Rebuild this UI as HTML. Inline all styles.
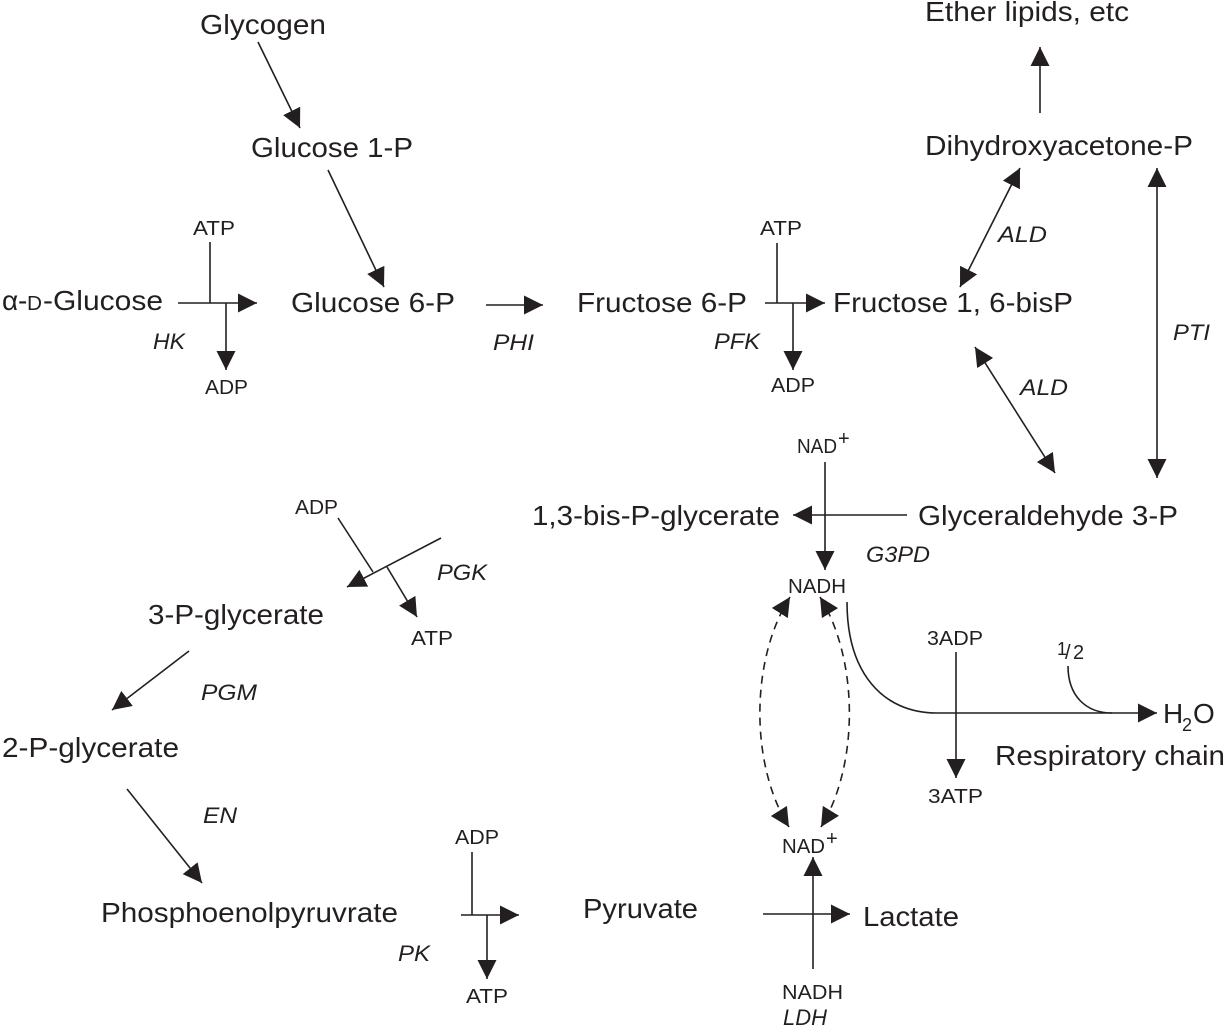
<!DOCTYPE html>
<html>
<head>
<meta charset="utf-8">
<style>
html,body{margin:0;padding:0;background:#fff;}
svg{display:block;}
</style>
</head>
<body>
<svg width="1225" height="1027" viewBox="0 0 1225 1027" xmlns="http://www.w3.org/2000/svg">
<defs>
<marker id="a" markerUnits="userSpaceOnUse" markerWidth="20" markerHeight="20" refX="19" refY="9.5" orient="auto-start-reverse">
<path d="M0,0 L19,9.5 L0,19 z" fill="#231f20" stroke="none"/>
</marker>
</defs>

<g stroke="#231f20" stroke-width="1.6" fill="none">
<line x1="258" y1="42" x2="300" y2="128" marker-end="url(#a)"/>
<line x1="328" y1="170" x2="384" y2="287" marker-end="url(#a)"/>
<line x1="178" y1="303" x2="257" y2="303" marker-end="url(#a)"/>
<line x1="210" y1="242" x2="210" y2="303"/>
<line x1="226" y1="303" x2="226" y2="370" marker-end="url(#a)"/>
<line x1="486" y1="305" x2="543" y2="305" marker-end="url(#a)"/>
<line x1="765" y1="303" x2="825" y2="303" marker-end="url(#a)"/>
<line x1="777" y1="243" x2="777" y2="303"/>
<line x1="793" y1="303" x2="793" y2="370" marker-end="url(#a)"/>
<line x1="1020" y1="168" x2="960" y2="287" marker-start="url(#a)" marker-end="url(#a)"/>
<line x1="975" y1="347" x2="1055" y2="473" marker-start="url(#a)" marker-end="url(#a)"/>
<line x1="1157" y1="168" x2="1157" y2="478" marker-start="url(#a)" marker-end="url(#a)"/>
<line x1="1040" y1="113" x2="1040" y2="47" marker-end="url(#a)"/>
<line x1="907" y1="515" x2="793" y2="515" marker-end="url(#a)"/>
<line x1="825" y1="462" x2="825" y2="570" marker-end="url(#a)"/>
<line x1="441" y1="538" x2="347" y2="587" marker-end="url(#a)"/>
<line x1="338" y1="518" x2="373" y2="572"/>
<line x1="387" y1="567" x2="417" y2="617" marker-end="url(#a)"/>
<line x1="189" y1="651" x2="112" y2="710" marker-end="url(#a)"/>
<line x1="127" y1="789" x2="202" y2="883" marker-end="url(#a)"/>
<line x1="461" y1="915" x2="519" y2="915" marker-end="url(#a)"/>
<line x1="472" y1="852" x2="472" y2="915"/>
<line x1="487" y1="915" x2="487" y2="979" marker-end="url(#a)"/>
<line x1="763" y1="914" x2="850" y2="914" marker-end="url(#a)"/>
<line x1="813" y1="969" x2="813" y2="857" marker-end="url(#a)"/>
<path d="M847,602 C847,672 882,713 937,713 L1157,713" marker-end="url(#a)"/>
<line x1="956" y1="652" x2="956" y2="778" marker-end="url(#a)"/>
<path d="M1068,666 C1068,696 1086,713 1112,713"/>
<path d="M790,597 C750,660 750,765 789,827" stroke-dasharray="8,6" marker-start="url(#a)" marker-end="url(#a)"/>
<path d="M820,597 C859,660 859,765 821,827" stroke-dasharray="8,6" marker-start="url(#a)" marker-end="url(#a)"/>
</g>

<g font-family="'Liberation Sans', Arial, sans-serif" fill="#231f20" font-size="28">
<text x="200" y="34" textLength="126" lengthAdjust="spacingAndGlyphs">Glycogen</text>
<text x="251" y="157" textLength="162" lengthAdjust="spacingAndGlyphs">Glucose 1-P</text>
<text x="2" y="310">α</text>
<text x="18" y="310">-</text>
<text x="27" y="310" font-size="20" textLength="15" lengthAdjust="spacingAndGlyphs">D</text>
<text x="43" y="310" textLength="120" lengthAdjust="spacingAndGlyphs">-Glucose</text>
<text x="291" y="312" textLength="164" lengthAdjust="spacingAndGlyphs">Glucose 6-P</text>
<text x="577" y="312" textLength="170" lengthAdjust="spacingAndGlyphs">Fructose 6-P</text>
<text x="833" y="312" textLength="240" lengthAdjust="spacingAndGlyphs">Fructose 1, 6-bisP</text>
<text x="925" y="21" textLength="204" lengthAdjust="spacingAndGlyphs">Ether lipids, etc</text>
<text x="925" y="155" textLength="268" lengthAdjust="spacingAndGlyphs">Dihydroxyacetone-P</text>
<text x="918" y="525" textLength="260" lengthAdjust="spacingAndGlyphs">Glyceraldehyde 3-P</text>
<text x="532" y="525" textLength="248" lengthAdjust="spacingAndGlyphs">1,3-bis-P-glycerate</text>
<text x="148" y="624" textLength="176" lengthAdjust="spacingAndGlyphs">3-P-glycerate</text>
<text x="2" y="757" textLength="177" lengthAdjust="spacingAndGlyphs">2-P-glycerate</text>
<text x="101" y="922" textLength="297" lengthAdjust="spacingAndGlyphs">Phosphoenolpyruvrate</text>
<text x="583" y="918" textLength="115" lengthAdjust="spacingAndGlyphs">Pyruvate</text>
<text x="863" y="926" textLength="96" lengthAdjust="spacingAndGlyphs">Lactate</text>
<text x="995" y="765" textLength="230" lengthAdjust="spacingAndGlyphs">Respiratory chain</text>
<text x="1163" y="723">H</text>
<text x="1182" y="731" font-size="18">2</text>
<text x="1193" y="723">O</text>
</g>

<g font-family="'Liberation Sans', Arial, sans-serif" fill="#231f20" font-size="20">
<text x="193" y="235" textLength="42" lengthAdjust="spacingAndGlyphs">ATP</text>
<text x="205" y="394" textLength="43" lengthAdjust="spacingAndGlyphs">ADP</text>
<text x="760" y="235" textLength="42" lengthAdjust="spacingAndGlyphs">ATP</text>
<text x="771" y="392" textLength="44" lengthAdjust="spacingAndGlyphs">ADP</text>
<text x="797" y="453" textLength="40" lengthAdjust="spacingAndGlyphs">NAD</text>
<text x="838" y="445" font-size="20">+</text>
<text x="788" y="593" textLength="58" lengthAdjust="spacingAndGlyphs">NADH</text>
<text x="295" y="514" textLength="43" lengthAdjust="spacingAndGlyphs">ADP</text>
<text x="411" y="645" textLength="42" lengthAdjust="spacingAndGlyphs">ATP</text>
<text x="927" y="645" textLength="56" lengthAdjust="spacingAndGlyphs">3ADP</text>
<text x="928" y="803" textLength="55" lengthAdjust="spacingAndGlyphs">3ATP</text>
<text x="1057" y="655" font-size="18">1</text>
<text x="1065" y="659">/</text>
<text x="1073" y="659">2</text>
<text x="782" y="853" textLength="43" lengthAdjust="spacingAndGlyphs">NAD</text>
<text x="826" y="845" font-size="20">+</text>
<text x="455" y="844" textLength="44" lengthAdjust="spacingAndGlyphs">ADP</text>
<text x="466" y="1003" textLength="42" lengthAdjust="spacingAndGlyphs">ATP</text>
<text x="782" y="999" textLength="61" lengthAdjust="spacingAndGlyphs">NADH</text>
</g>

<g font-family="'Liberation Sans', Arial, sans-serif" fill="#231f20" font-size="22" font-style="italic">
<text x="153" y="349" textLength="32" lengthAdjust="spacingAndGlyphs">HK</text>
<text x="493" y="350" textLength="41" lengthAdjust="spacingAndGlyphs">PHI</text>
<text x="714" y="349" textLength="46" lengthAdjust="spacingAndGlyphs">PFK</text>
<text x="998" y="242" textLength="49" lengthAdjust="spacingAndGlyphs">ALD</text>
<text x="1020" y="395" textLength="48" lengthAdjust="spacingAndGlyphs">ALD</text>
<text x="1173" y="340" textLength="37" lengthAdjust="spacingAndGlyphs">PTI</text>
<text x="866" y="562" textLength="64" lengthAdjust="spacingAndGlyphs">G3PD</text>
<text x="437" y="580" textLength="50" lengthAdjust="spacingAndGlyphs">PGK</text>
<text x="201" y="700" textLength="56" lengthAdjust="spacingAndGlyphs">PGM</text>
<text x="203" y="823" textLength="34" lengthAdjust="spacingAndGlyphs">EN</text>
<text x="398" y="961" textLength="32" lengthAdjust="spacingAndGlyphs">PK</text>
<text x="783" y="1025" textLength="44" lengthAdjust="spacingAndGlyphs">LDH</text>
</g>
</svg>
</body>
</html>
